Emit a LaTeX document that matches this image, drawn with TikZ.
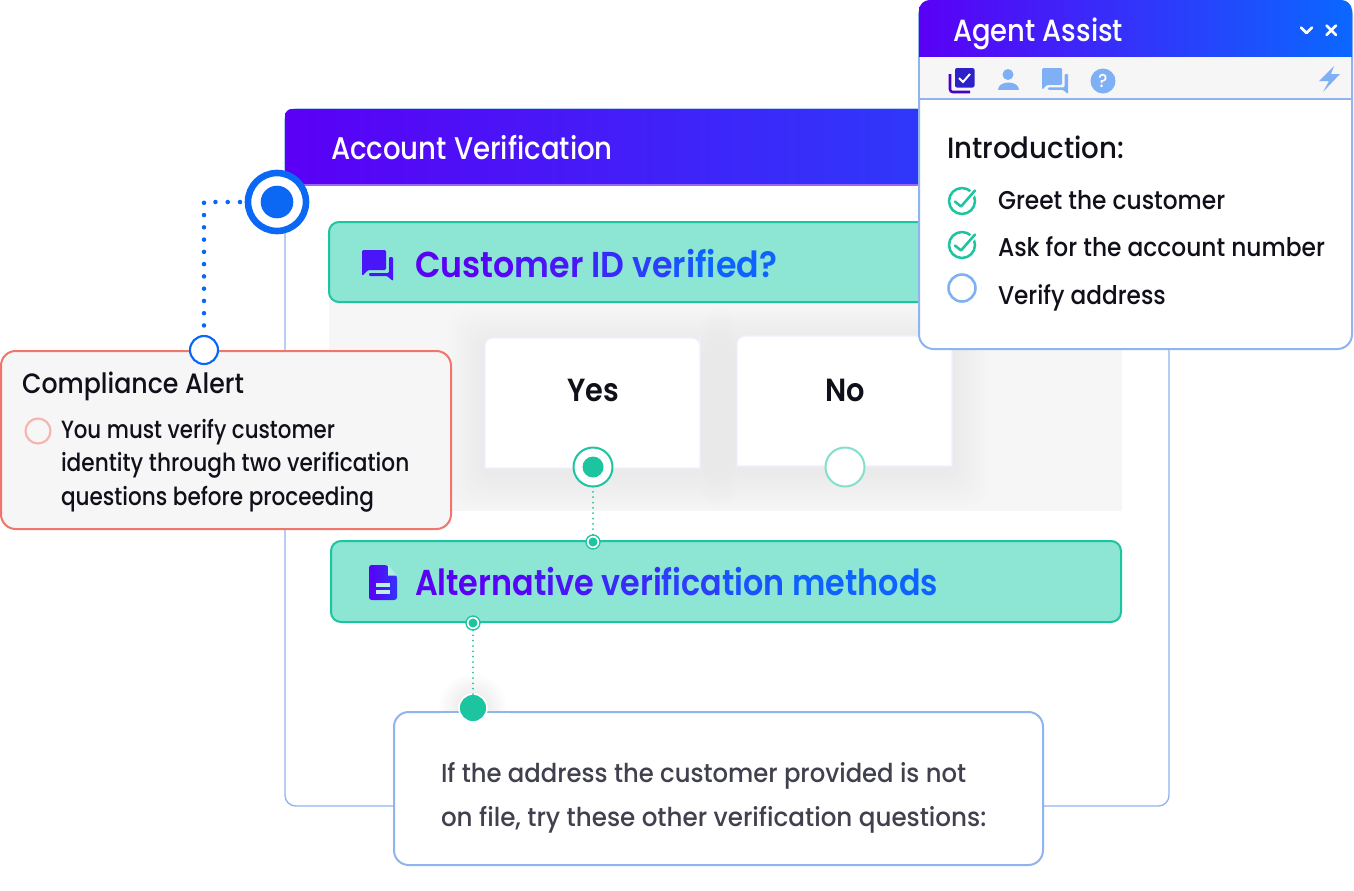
\documentclass[tikz,border=0pt]{standalone}
\usepackage{fontspec}
\setmainfont{Poppins Medium}[FakeStretch=0.9]
\newfontfamily\semif{Poppins SemiBold}[FakeStretch=0.9]
\usetikzlibrary{calc}
\definecolor{gA}{HTML}{5A00F5}
\definecolor{gB}{HTML}{0A68FF}
\colorlet{gC1}{gB!5!gA}\colorlet{gC2}{gB!20!gA}\colorlet{gC3}{gB!40!gA}\colorlet{gC4}{gB!60!gA}\colorlet{gC5}{gB!80!gA}\colorlet{gC6}{gB!95!gA}
\definecolor{frameblue}{HTML}{8FB4EE}
\definecolor{teal}{HTML}{1DC4A0}
\definecolor{mint}{HTML}{8DE6D4}
\definecolor{panel}{HTML}{F6F6F6}
\definecolor{coral}{HTML}{F0756A}
\definecolor{blu}{HTML}{0A68F5}
\definecolor{ltblue}{HTML}{7FB0F5}
\definecolor{ink}{HTML}{10101A}
\definecolor{slate}{HTML}{40404E}
\tikzset{x=0.75pt,y=-0.75pt,
 txt/.style={anchor=base west,inner sep=0pt,outer sep=0pt,text=ink},
 dotb/.style={blu,line width=3.4pt,line cap=round,dash pattern=on 0pt off 9.2pt},
 dotg/.style={teal,line width=1.5pt,line cap=round,dash pattern=on 0pt off 4pt},
 mintbox/.style={fill=mint,draw=teal,line width=1.5pt,rounded corners=7.5pt},
 card/.style={fill=white,draw=blue!6,line width=0.8pt},
 circ/.style={circle,inner sep=0pt,outer sep=0pt},
 panelbox/.style={inner sep=0pt,outer sep=0pt,anchor=north west},
}
\newcommand{\sx}[2]{\scalebox{#1}[1]{#2}}
\newcommand{\softshadow}[4]{\foreach \i in {1,...,12}{\fill[black,opacity=0.0035,rounded corners=14pt] (#1-3*\i,#2-3*\i+6) rectangle (#3+3*\i,#4+3*\i+6);}}
\newcommand{\chatic}[4]{\begin{scope}[shift={(#1,#2)},scale=#4]
 \fill[#3,rounded corners=1pt] (0,0) -- (24,0) -- (24,20) -- (6,20) -- (0,26) -- cycle;
 \fill[#3,rounded corners=0.8pt] (27,7) -- (31,7) -- (31,31) -- (25,26) -- (7,26) -- (7,23) -- (27,23) -- cycle;
\end{scope}}
\newcommand{\tickic}[3]{\begin{scope}[shift={(#1,#2)}]
 \draw[#3,line width=1.9pt] (0,0) circle (13);
 \draw[white,line width=4.5pt] (-1,5.5) -- (13,-10.5);
 \draw[#3,line width=1.9pt,line cap=round,line join=round] (-7,0.5) -- (-1,5.5) -- (13,-10.5);
\end{scope}}
\begin{document}
\begin{tikzpicture}
\useasboundingbox (0,0) rectangle (1354,890);
\fill[white] (0,0) rectangle (1354,890);
% main frame
\node[panelbox,draw=frameblue,line width=1pt,rounded corners=8pt,minimum width=884*0.75pt,minimum height=697*0.75pt] (frame) at (285,109) {};
% header
\shade[left color=gA,right color=gB!75!gA,rounded corners=5pt] (285,109) -- (1169,109) -- (1169,185) -- (285,185) -- cycle;
\fill[gA] (285,120) rectangle (300,185);
\draw[gA!60!white,line width=0.8pt] (285,185) -- (1000,185);
\node[txt,text=white,font=\fontsize{23.5pt}{24pt}\selectfont] (acct) at (331,159) {\sx{.978}{Account Verification}};
% panel
\fill[panel] (329,300) rectangle (1122,511);
\begin{scope}
\clip (329,300) rectangle (1122,511);
\softshadow{485}{338}{700}{468}
\softshadow{737}{336}{952}{466}
\end{scope}
% customer box
\draw[mintbox] (329,222) rectangle (1010,302);
\chatic{362}{250}{gC2}{1}
\node[txt,font=\semif\fontsize{27pt}{28pt}\selectfont] (cust) at (415,277) {\sx{1.026}{{\color{gA}Cus}{\color{gC1}to}{\color{gC2}mer} {\color{gC3}ID} {\color{gC4}ve}{\color{gC5}ri}{\color{gC6}fied?}}};
% cards
\draw[card,rounded corners=6pt] (485,468) [sharp corners] -- (485,344) [rounded corners=6pt] -- (485,338) -- (700,338) -- (700,344) [sharp corners] -- (700,468) -- cycle;
\draw[card,rounded corners=6pt] (737,466) [sharp corners] -- (737,342) [rounded corners=6pt] -- (737,336) -- (952,336) -- (952,342) [sharp corners] -- (952,466) -- cycle;
\node[txt,anchor=base,font=\semif\fontsize{24pt}{25pt}\selectfont] (yes) at (593,401) {Yes};
\node[txt,anchor=base,font=\semif\fontsize{24pt}{25pt}\selectfont] (no) at (845,401) {No};
% alt box
\draw[mintbox] (331,541) rectangle (1121,622);
\begin{scope}[shift={(369,565)}]
 \shade[left color=gA,right color=gB!50!gA,rounded corners=2pt] (0,0) -- (18,0) -- (28,11) -- (28,35) -- (0,35) -- cycle;
 \fill[mint!70!white] (19,0) -- (28,10.5) -- (19,10.5) -- cycle;
 \fill[mint!60!white] (7,18) rectangle (21,21.5);
 \fill[mint!60!white] (7,25) rectangle (21,28.5);
\end{scope}
\node[txt,font=\semif\fontsize{27pt}{28pt}\selectfont] (alt) at (415,595) {\sx{.982}{{\color{gA}Alter}{\color{gC1}na}{\color{gC2}tive} {\color{gC3}veri}{\color{gC4}fica}{\color{gC5}tion} {\color{gC6}methods}}};
% bottom box
\node[panelbox,fill=white,draw=frameblue,line width=1.5pt,rounded corners=11pt,minimum width=649*0.75pt,minimum height=153*0.75pt] (bottom) at (394,712) {};
\node[txt,text=slate,font=\fontsize{19.5pt}{20pt}\selectfont] (b1) at (441,782) {\sx{1.039}{If the address the customer provided is not}};
\node[txt,text=slate,font=\fontsize{19.5pt}{20pt}\selectfont] (b2) at (441,826) {\sx{1.052}{on file, try these other verification questions:}};
% green connectors
\node[circ,fill=white,draw=teal,line width=1.5pt,minimum size=39*0.75pt] (yesc) at (593,467) {};
\fill[teal] (yesc.center) circle (10.5);
\node[circ,fill=white,draw=teal!55!white,line width=1.5pt,minimum size=39*0.75pt] (noc) at (845,467) {};
\node[circ,fill=white,draw=teal,line width=1pt,minimum size=14*0.75pt] (s1) at (593,542) {};
\fill[teal] (s1.center) circle (4.5);
\node[circ,fill=white,draw=teal,line width=1pt,minimum size=14*0.75pt] (s2) at (473,623) {};
\fill[teal] (s2.center) circle (4.5);
\foreach \i in {1,...,8}{\fill[black,opacity=0.006] (473,708) circle (14+2.5*\i);}
\fill[white] (440,712.8) rectangle (510,750);
\draw[frameblue,line width=1.5pt] (430,712) -- (520,712);
\node[circ,fill=teal,draw=white,line width=1.2pt,minimum size=28*0.75pt] (s3) at (473,708) {};
\draw[dotg] (yesc) -- (s1);
\draw[dotg] (s2) -- (s3);
% compliance
\node[panelbox,fill=panel,draw=coral,line width=1.5pt,rounded corners=11pt,minimum width=450*0.75pt,minimum height=178*0.75pt] (comp) at (1,351) {};
\node[txt,font=\fontsize{21pt}{22pt}\selectfont] (ct) at (22,393) {\sx{1.002}{Compliance Alert}};
\node[circ,draw=coral!55!white,line width=1.6pt,minimum size=25*0.75pt] (cc) at (38,431) {};
\node[txt,font=\fontsize{18.7pt}{19pt}\selectfont] (c1) at (61,438) {\sx{.95}{You must verify customer}};
\node[txt,font=\fontsize{18.7pt}{19pt}\selectfont] (c2) at (61,471) {\sx{.966}{identity through two verification}};
\node[txt,font=\fontsize{18.7pt}{19pt}\selectfont] (c3) at (61,505) {\sx{.96}{questions before proceeding}};
% target + blue connector
\node[circ,fill=white,draw=blu,line width=1.9pt*2.6,minimum size=58*0.75pt] (target) at (277,202) {};
\fill[blu] (target.center) circle (16.3);
\node[circ,fill=white,draw=blu,line width=1.6pt,minimum size=28*0.75pt] (pin) at (204,350) {};
\coordinate (elbow) at (204,202);
\draw[dotb] (target.west) ++(-8,0) -- (elbow) -- ($(pin.north)+(0,-8)$);
% agent assist
\node[panelbox,fill=white,draw=frameblue,line width=1.5pt,rounded corners=11pt,minimum width=433*0.75pt,minimum height=348*0.75pt] (agent) at (919,1) {};
\shade[left color=gA,right color=gB,rounded corners=8pt] (919,0) -- (1352,0) -- (1352,20) -- (919,20) -- cycle;
\shade[left color=gA,right color=gB] (919,10) rectangle (1352,57);
\fill[panel] (919,57) rectangle (1352,98);
\draw[frameblue,line width=1.5pt] (919,99) -- (1352,99);
\draw[frameblue,line width=1pt] (919,57) -- (919,99) (1352,57) -- (1352,99);
\node[txt,text=white,font=\fontsize{23pt}{24pt}\selectfont] (aa) at (953,41) {\sx{.993}{Agent Assist}};
\draw[white,line width=2pt,line cap=round,line join=round] (1301,27.5) -- (1306.5,33) -- (1312,27.5);
\draw[white,line width=2pt,line cap=round] (1326.5,25.5) -- (1336,35) (1336,25.5) -- (1326.5,35);
% toolbar icons
\draw[gA!80!black,line width=1.9pt,rounded corners=2pt] (950,74) -- (950,92) -- (970,92);
\fill[gC3!80!black,rounded corners=1.5pt] (955,68) rectangle (974.5,87.5);
\draw[white,line width=1.5pt] (959,78) -- (963,82) -- (970,74);
\fill[ltblue] (1008,74.5) circle (5.5);
\fill[ltblue] (998,90) .. controls (998,80) and (1019,80) .. (1019,90) -- cycle;
\chatic{1042}{68}{ltblue}{0.84}
\node[circ,fill=ltblue,minimum size=25*0.75pt,text=white,font=\fontsize{14pt}{15pt}\selectfont] (help) at (1103,81) {?};
\fill[ltblue] (1334,66) -- (1319,81) -- (1329,81) -- (1323,92) -- (1340,74) -- (1331,74) -- cycle;
% agent text
\node[txt,font=\fontsize{22pt}{23pt}\selectfont] (intro) at (947,158) {\sx{1.047}{Introduction:}};
\tickic{962}{201}{teal}
\tickic{962}{245}{teal}
\node[circ,draw=ltblue,line width=1.9pt,minimum size=27*0.75pt] (open) at (962,288) {};
\node[txt,font=\fontsize{19.3pt}{20pt}\selectfont] (l1) at (998,209) {\sx{1.006}{Greet the customer}};
\node[txt,font=\fontsize{19.3pt}{20pt}\selectfont] (l2) at (998,256) {\sx{1.007}{Ask for the account number}};
\node[txt,font=\fontsize{19.3pt}{20pt}\selectfont] (l3) at (998,304) {\sx{1.001}{Verify address}};
\end{tikzpicture}
\end{document}
